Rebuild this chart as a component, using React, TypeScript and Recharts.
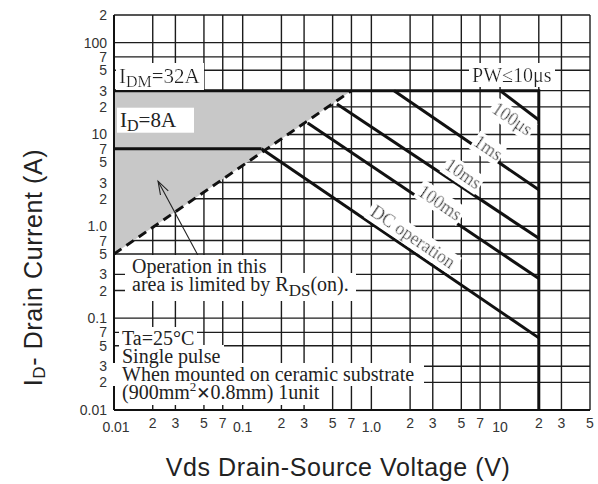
import React from "react";
import {
  Area,
  CartesianGrid,
  ComposedChart,
  Label,
  Line,
  ReferenceDot,
  ReferenceLine,
  XAxis,
  YAxis,
} from "recharts";

// Vds (V) / Id (A), log-log safe operating area
const X_TICKS = [0.01, 0.02, 0.03, 0.05, 0.07, 0.1, 0.2, 0.3, 0.5, 0.7, 1, 2, 3, 5, 7, 10, 20, 30, 50];
const Y_TICKS = [
  0.01, 0.02, 0.03, 0.05, 0.07, 0.1, 0.2, 0.3, 0.5, 0.7, 1, 2, 3, 5, 7, 10, 20, 30, 50, 70, 100, 200,
];

const PW_10US = [
  { v: 0.01, i: 30 },
  { v: 20, i: 30 },
  { v: 20, i: 0.01 },
];
const ID_LIMIT = [
  { v: 0.01, i: 7 },
  { v: 0.14, i: 7 },
];
const RDS_ON = [
  { v: 0.01, i: 0.5 },
  { v: 0.7, i: 30 },
];
const PW_100US = [
  { v: 10, i: 30 },
  { v: 20, i: 14.4 },
];
const PW_1MS = [
  { v: 1.5, i: 30 },
  { v: 20, i: 2.5 },
];
const PW_10MS = [
  { v: 0.54, i: 21.5 },
  { v: 20, i: 0.74 },
];
const PW_100MS = [
  { v: 0.32, i: 13.3 },
  { v: 20, i: 0.27 },
];
const DC_LINE = [
  { v: 0.14, i: 7 },
  { v: 20, i: 0.061 },
];
const RDS_ZONE = [
  { v: 0.01, band: [0.5, 30] },
  { v: 0.7, band: [30, 30] },
];

const PULSE_LABELS = [
  { text: "100μs", v: 12.4, i: 14.7 },
  { text: "1ms", v: 8.05, i: 7.1 },
  { text: "10ms", v: 5.15, i: 3.7 },
  { text: "100ms", v: 3.41, i: 1.8 },
  { text: "DC operation", v: 2.1, i: 0.76 },
];

const SERIF = "'Liberation Serif', 'Times New Roman', serif";
const SANS = "'Liberation Sans', Arial, sans-serif";
const BG = "url(#labelBg)";

const isDecade = (v: number) => Math.abs(Math.log10(v) - Math.round(Math.log10(v))) < 1e-9;

function tickText(v: number) {
  if (isDecade(v)) return v === 1 ? "1.0" : String(v);
  return String(Math.round(v / 10 ** Math.floor(Math.log10(v) + 1e-9)));
}

function XTick({ x, y, payload }: any) {
  const v = payload.value;
  return (
    <text x={x + (v === 0.01 ? 2 : 0)} y={y + (isDecade(v) ? 22 : 18)} textAnchor="middle" fontFamily={SANS} fontSize={14} fill="#333">
      {tickText(v)}
    </text>
  );
}

function YTick({ x, y, payload }: any) {
  return (
    <text x={x - 7} y={y + 5} textAnchor="end" fontFamily={SANS} fontSize={14} fill="#333">
      {tickText(payload.value)}
    </text>
  );
}

// each line gets its own white box (a <use> copy drawn first), so lines don't clip each other
function Lines({ id, x, y, step, lines }: { id: string; x: number; y: number; step: number; lines: React.ReactNode[] }) {
  return (
    <g fontFamily={SERIF} fontSize={20}>
      {lines.map((_, k) => (
        <use key={`b${k}`} href={`#${id}${k}`} fill="transparent" filter={BG} />
      ))}
      <g fill="#222">
        {lines.map((l, k) => (
          <text key={`t${k}`} id={`${id}${k}`} x={x} y={y + k * step}>
            {l}
          </text>
        ))}
      </g>
    </g>
  );
}

function IdmLabel({ cx, cy }: any) {
  return (
    <g>
      <defs>
        <filter id="labelBg" x="-0.03" y="0" width="1.06" height="1">
          <feFlood floodColor="#fff" />
          <feComposite in="SourceGraphic" operator="over" />
        </filter>
      </defs>
      <text x={cx + 5} y={cy - 8} fontFamily={SERIF} fontSize={21} fill="#222" filter={BG}>
        I<tspan fontSize={16} dy={4}>DM</tspan>
        <tspan dy={-4}>=32A</tspan>
      </text>
    </g>
  );
}

function IdLabel({ cx, cy }: any) {
  return (
    <g>
      <rect x={cx + 3} y={cy - 41} width={77} height={25} fill="#fff" />
      <text x={cx + 6} y={cy - 22} fontFamily={SERIF} fontSize={21} fill="#222">
        I<tspan fontSize={16} dy={4}>D</tspan>
        <tspan dy={-4}>=8A</tspan>
      </text>
    </g>
  );
}

function PwLabel({ cx, cy }: any) {
  return (
    <text x={cx - 27} y={cy - 9} textAnchor="middle" fontFamily={SERIF} fontSize={20} fill="#222" filter={BG}>
      PW≤10μs
    </text>
  );
}

function PulseLabel({ cx, cy, text }: any) {
  return (
    <text
      x={cx}
      y={cy}
      textAnchor="middle"
      dominantBaseline="central"
      transform={`rotate(34 ${cx} ${cy})`}
      fontFamily={SERIF}
      fontSize={18}
      fill="#222"
      filter={BG}
    >
      {text}
    </text>
  );
}

function RdsNote({ cx, cy }: any) {
  return (
    <Lines
      id="rdsNote"
      x={cx + 18}
      y={cy - 1}
      step={18}
      lines={[
        "Operation in this",
        <>
          area is limited by R<tspan fontSize={17} dy={5}>DS</tspan>
          <tspan dy={-5}>(on).</tspan>
        </>,
      ]}
    />
  );
}

function ConditionNote({ cx, cy }: any) {
  return (
    <Lines
      id="condNote"
      x={cx + 8}
      y={cy + 27}
      step={18}
      lines={[
        "Ta=25°C",
        "Single pulse",
        "When mounted on ceramic substrate",
        <>
          (900mm<tspan fontSize={13} dy={-8}>2</tspan>
          <tspan dy={8} fontFamily="'DejaVu Sans', sans-serif" fontSize={17}>
            ✕
          </tspan>
          0.8mm) 1unit
        </>,
      ]}
    />
  );
}

function ArrowShape({ x1, y1, x2, y2 }: any) {
  const a = Math.atan2(y2 - y1, x2 - x1);
  const len = 14;
  const spread = 0.32;
  const p1 = [x2 - len * Math.cos(a - spread), y2 - len * Math.sin(a - spread)];
  const p2 = [x2 - len * Math.cos(a + spread), y2 - len * Math.sin(a + spread)];
  return (
    <g stroke="#222" strokeWidth={1.1} fill="none">
      <line x1={x1} y1={y1} x2={x2} y2={y2} />
      <polyline points={`${p1[0]},${p1[1]} ${x2},${y2} ${p2[0]},${p2[1]}`} />
    </g>
  );
}

const LINE = { type: "linear" as const, dataKey: "i", stroke: "#111", strokeWidth: 3, dot: false, isAnimationActive: false };

export default function App() {
  return (
    <div style={{ position: "absolute", left: 0, top: 0, width: 598, height: 484, background: "#fff" }}>
      <ComposedChart width={598} height={484} margin={{ top: 15, right: 8, bottom: 0, left: 0 }}>
        <XAxis
          type="number"
          dataKey="v"
          scale="log"
          domain={[0.01, 50]}
          allowDataOverflow
          ticks={X_TICKS}
          interval={0}
          tick={<XTick />}
          tickLine={false}
          tickSize={0}
          tickMargin={0}
          axisLine={{ stroke: "#111", strokeWidth: 2 }}
          height={74}
        >
          <Label
            content={({ viewBox }: any) => (
              <text
                x={viewBox.x + viewBox.width / 2 - 14}
                y={viewBox.y + 66}
                textAnchor="middle"
                fontFamily={SANS}
                fontSize={25}
                letterSpacing={0.6}
                fill="#222"
              >
                Vds Drain-Source Voltage (V)
              </text>
            )}
          />
        </XAxis>
        <YAxis
          type="number"
          dataKey="i"
          scale="log"
          domain={[0.01, 200]}
          allowDataOverflow
          ticks={Y_TICKS}
          interval={0}
          tick={<YTick />}
          tickLine={false}
          tickSize={0}
          tickMargin={0}
          axisLine={{ stroke: "#111", strokeWidth: 2 }}
          width={114}
        >
          <Label
            content={({ viewBox }: any) => {
              const cx = viewBox.x + 33;
              const cy = viewBox.y + viewBox.height / 2 + 55;
              return (
                <text
                  x={cx}
                  y={cy}
                  transform={`rotate(-90 ${cx} ${cy})`}
                  textAnchor="middle"
                  dominantBaseline="central"
                  fontFamily={SANS}
                  fontSize={25}
                  letterSpacing={0.6}
                  fill="#222"
                >
                  I<tspan fontSize={17} dy={6}>D</tspan>
                  <tspan dy={-6}>- Drain Current (A)</tspan>
                </text>
              );
            }}
          />
        </YAxis>

        <Area
          data={RDS_ZONE}
          dataKey="band"
          type="linear"
          stroke="none"
          fill="#c8c8c8"
          fillOpacity={1}
          isAnimationActive={false}
        />
        <CartesianGrid stroke="#1c1c1c" strokeWidth={1.4} />

        <ReferenceDot x={0.01} y={30} r={0} shape={(p: any) => <IdmLabel cx={p.cx} cy={p.cy} />} />
        <ReferenceDot x={0.01} y={7} r={0} shape={(p: any) => <IdLabel cx={p.cx} cy={p.cy} />} />
        <ReferenceDot x={20} y={30} r={0} shape={(p: any) => <PwLabel cx={p.cx} cy={p.cy} />} />
        <ReferenceDot x={0.01} y={0.3} r={0} shape={(p: any) => <RdsNote cx={p.cx} cy={p.cy} />} />
        <ReferenceDot x={0.01} y={0.1} r={0} shape={(p: any) => <ConditionNote cx={p.cx} cy={p.cy} />} />
        {PULSE_LABELS.map((l) => (
          <ReferenceDot
            key={l.text}
            x={l.v}
            y={l.i}
            r={0}
            shape={(p: any) => <PulseLabel cx={p.cx} cy={p.cy} text={l.text} />}
          />
        ))}

        <Line {...LINE} data={RDS_ON} strokeDasharray="9 6" />
        <Line {...LINE} data={PW_10US} />
        <Line {...LINE} data={ID_LIMIT} />
        <Line {...LINE} data={PW_100US} />
        <Line {...LINE} data={PW_1MS} />
        <Line {...LINE} data={PW_10MS} />
        <Line {...LINE} data={PW_100MS} />
        <Line {...LINE} data={DC_LINE} />

        <ReferenceLine
          segment={[
            { x: 0.045, y: 0.48 },
            { x: 0.022, y: 3.1 },
          ]}
          shape={(p: any) => <ArrowShape {...p} />}
        />
      </ComposedChart>
    </div>
  );
}
